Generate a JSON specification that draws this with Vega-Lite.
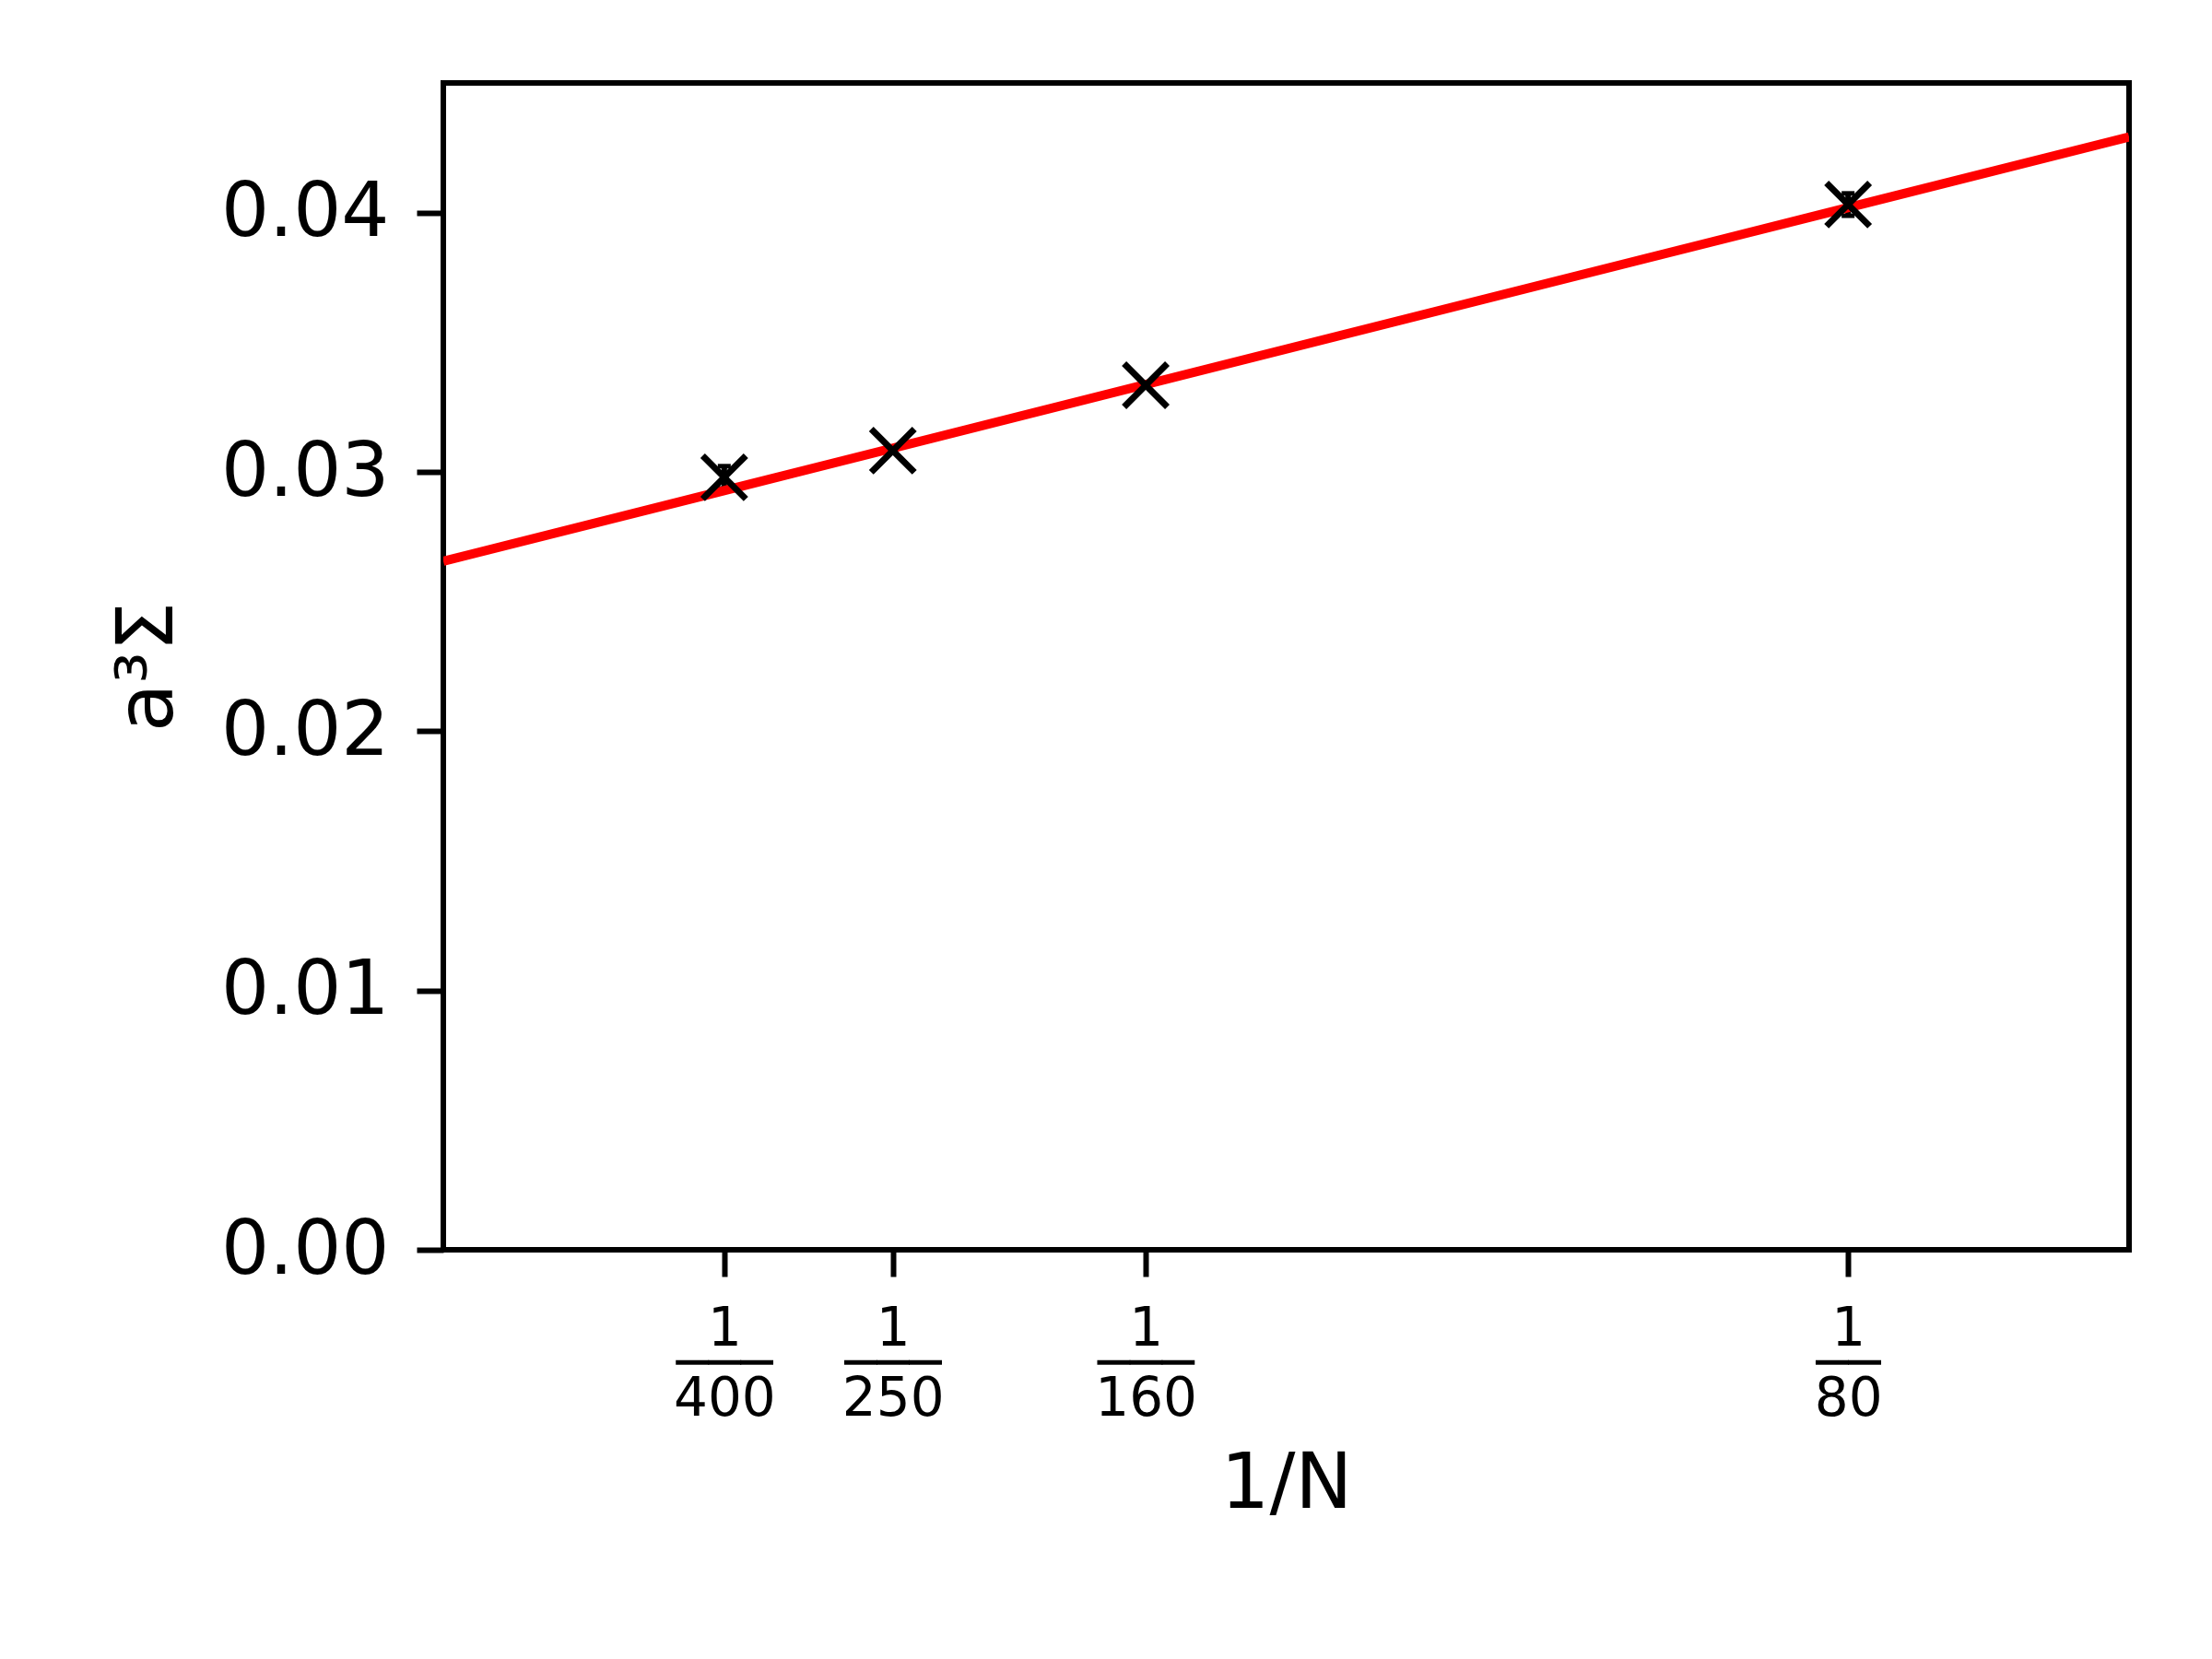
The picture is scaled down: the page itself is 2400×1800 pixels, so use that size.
{
  "$schema": "https://vega.github.io/schema/vega-lite/v6.json",
  "autosize": "none",
  "padding": {"left": 481, "top": 90, "right": 90, "bottom": 444},
  "width": 1829,
  "height": 1266,
  "background": "white",
  "config": {
    "view": {"stroke": "black", "strokeWidth": 6},
    "font": "DejaVu Sans",
    "axis": {
      "domain": false,
      "grid": false,
      "tickColor": "black",
      "tickWidth": 6,
      "tickSize": 29,
      "labelColor": "black",
      "titleColor": "black",
      "labelFont": "DejaVu Sans",
      "titleFont": "DejaVu Sans",
      "titleFontWeight": "normal",
      "titleFontSize": 83,
      "labelOverlap": false,
      "labelBound": false,
      "labelFlush": false,
      "labelLimit": 0
    }
  },
  "datasets": {
    "points": [
      {"invN": 0.0025, "val": 0.02979},
      {"invN": 0.004, "val": 0.03082},
      {"invN": 0.00625, "val": 0.03334},
      {"invN": 0.0125, "val": 0.04031}
    ],
    "err": [
      {"invN": 0.0025, "lo": 0.02936, "hi": 0.03022},
      {"invN": 0.0125, "lo": 0.03988, "hi": 0.04074}
    ],
    "fit": [
      {"invN": 0.0, "val": 0.026552},
      {"invN": 0.015, "val": 0.04292}
    ]
  },
  "layer": [
    {
      "data": {"name": "err"},
      "mark": {"type": "rule", "color": "black", "strokeWidth": 6},
      "encoding": {
        "x": {"field": "invN", "type": "quantitative", "scale": {"domain": [0, 0.015], "nice": false, "zero": false},
          "axis": {
            "values": [0.0025, 0.004, 0.00625, 0.0125],
            "labelExpr": "['1', datum.value > 0.01 ? '──' : '───', datum.value < 0.003 ? '400' : datum.value < 0.005 ? '250' : datum.value < 0.01 ? '160' : '80']",
            "labelFontSize": 58,
            "labelLineHeight": 38,
            "labelPadding": 28,
            "title": "1/N",
            "titlePadding": 22
          }},
        "y": {"field": "lo", "type": "quantitative", "scale": {"domain": [0, 0.045], "nice": false, "zero": false},
          "axis": {
            "values": [0, 0.01, 0.02, 0.03, 0.04],
            "format": ".2f",
            "labelFontSize": 82,
            "labelPadding": 30,
            "title": "a³Σ",
            "titleAngle": 270,
            "titleX": -321,
            "titleY": 633,
            "titleAlign": "center",
            "titleBaseline": "middle",
            "titleFontSize": 86
          }},
        "y2": {"field": "hi"}
      }
    },
    {
      "data": {"name": "err"},
      "mark": {"type": "tick", "orient": "horizontal", "color": "black", "size": 14, "thickness": 5, "opacity": 1},
      "encoding": {
        "x": {"field": "invN", "type": "quantitative"},
        "y": {"field": "lo", "type": "quantitative"}
      }
    },
    {
      "data": {"name": "err"},
      "mark": {"type": "tick", "orient": "horizontal", "color": "black", "size": 14, "thickness": 5, "opacity": 1},
      "encoding": {
        "x": {"field": "invN", "type": "quantitative"},
        "y": {"field": "hi", "type": "quantitative"}
      }
    },
    {
      "data": {"name": "fit"},
      "mark": {"type": "line", "color": "red", "strokeWidth": 10, "clip": true},
      "encoding": {
        "x": {"field": "invN", "type": "quantitative"},
        "y": {"field": "val", "type": "quantitative"}
      }
    },
    {
      "data": {"name": "points"},
      "mark": {"type": "point", "shape": "M-1,-1L1,1M-1,1L1,-1", "filled": false, "color": "black", "strokeWidth": 7, "size": 2200, "opacity": 1},
      "encoding": {
        "x": {"field": "invN", "type": "quantitative"},
        "y": {"field": "val", "type": "quantitative"}
      }
    }
  ]
}
